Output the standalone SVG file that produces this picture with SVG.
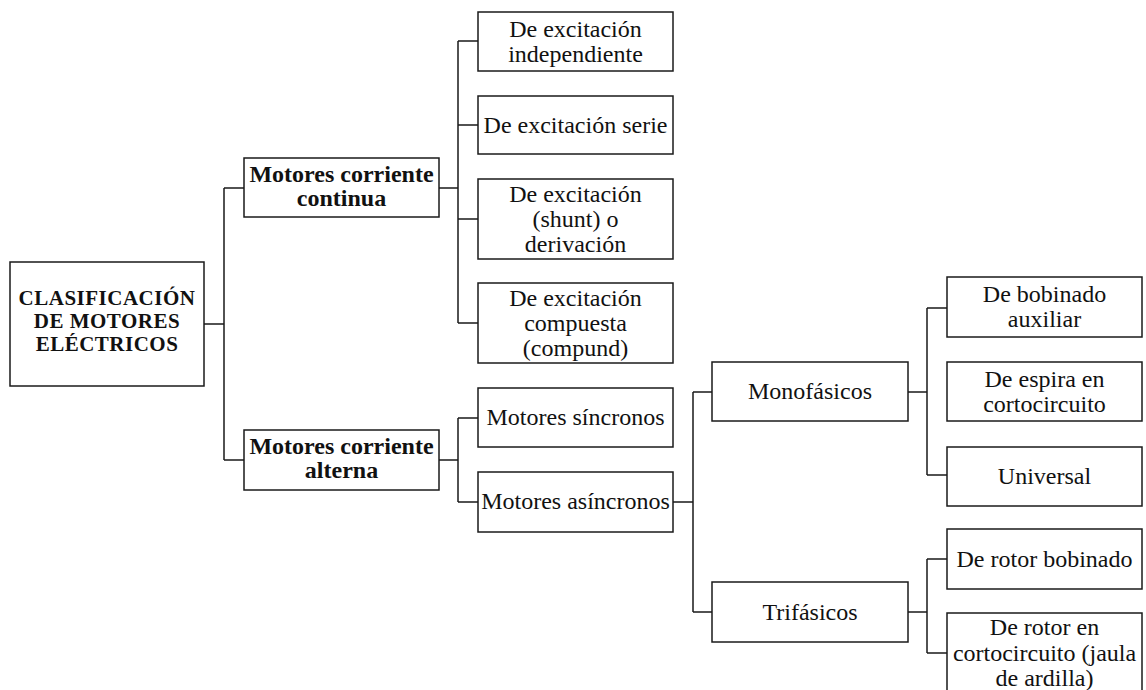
<svg xmlns="http://www.w3.org/2000/svg" width="1146" height="690" viewBox="0 0 1146 690">
<style>
rect.box{fill:#fff;stroke:#1a1a1a;stroke-width:1.5}
.conn path{fill:none;stroke:#1a1a1a;stroke-width:1.5}
text{font-family:"Liberation Serif","Times New Roman",serif;font-size:24px;fill:#111;text-anchor:middle}
text.b{font-weight:bold}
text.t{font-weight:bold;font-size:21px;letter-spacing:0.5px}
</style>
<rect width="1146" height="690" fill="#fff"/>
<g class="conn" id="connectors">
<path d="M204,324 H224 M224,188 V460 M224,188 H244 M224,460 H244"/>
<path d="M439,188 H458 M458,41 V323 M458,41 H478 M458,125 H478 M458,219 H478 M458,323 H478"/>
<path d="M439,460 H458 M458,418 V502 M458,418 H478 M458,502 H478"/>
<path d="M673,502 H693 M693,392 V612 M693,392 H712 M693,612 H712"/>
<path d="M908,392 H927 M927,308 V475 M927,308 H947 M927,475 H947"/>
<path d="M908,612 H927 M927,559 V653 M927,559 H947 M927,653 H947"/>
</g>
<g id="root"><rect class="box" x="10" y="262" width="194" height="124"/>
<text class="t" x="107" y="305">CLASIFICACIÓN</text><text class="t" x="107" y="328">DE MOTORES</text><text class="t" x="107" y="351">ELÉCTRICOS</text></g>
<g id="cc"><rect class="box" x="244" y="158" width="195" height="59"/>
<text class="b" x="341.5" y="182">Motores corriente</text><text class="b" x="341.5" y="206">continua</text></g>
<g id="ca"><rect class="box" x="244" y="430" width="195" height="60"/>
<text class="b" x="341.5" y="454">Motores corriente</text><text class="b" x="341.5" y="478">alterna</text></g>
<g id="indep"><rect class="box" x="478" y="12" width="195" height="59"/>
<text x="575.5" y="37">De excitación</text><text x="575.5" y="62">independiente</text></g>
<g id="serie"><rect class="box" x="478" y="96" width="195" height="58"/>
<text x="575.5" y="133">De excitación serie</text></g>
<g id="shunt"><rect class="box" x="478" y="179" width="195" height="80"/>
<text x="575.5" y="202">De excitación</text><text x="575.5" y="227">(shunt) o</text><text x="575.5" y="252">derivación</text></g>
<g id="compuesta"><rect class="box" x="478" y="283" width="195" height="80"/>
<text x="575.5" y="306">De excitación</text><text x="575.5" y="331">compuesta</text><text x="575.5" y="356">(compund)</text></g>
<g id="sincronos"><rect class="box" x="478" y="388" width="195" height="59"/>
<text x="575.5" y="425">Motores síncronos</text></g>
<g id="asincronos"><rect class="box" x="478" y="472" width="195" height="60"/>
<text x="575.5" y="509">Motores asíncronos</text></g>
<g id="mono"><rect class="box" x="712" y="362" width="196" height="59"/>
<text x="810" y="399">Monofásicos</text></g>
<g id="tri"><rect class="box" x="712" y="582" width="196" height="60"/>
<text x="810" y="620">Trifásicos</text></g>
<g id="bobaux"><rect class="box" x="947" y="277" width="195" height="60"/>
<text x="1044.5" y="302">De bobinado</text><text x="1044.5" y="327">auxiliar</text></g>
<g id="espira"><rect class="box" x="947" y="362" width="195" height="59"/>
<text x="1044.5" y="387">De espira en</text><text x="1044.5" y="412">cortocircuito</text></g>
<g id="universal"><rect class="box" x="947" y="447" width="195" height="59"/>
<text x="1044.5" y="484">Universal</text></g>
<g id="rotorbob"><rect class="box" x="947" y="529" width="195" height="60"/>
<text x="1044.5" y="567">De rotor bobinado</text></g>
<g id="jaula"><rect class="box" x="947" y="613" width="195" height="82"/>
<text x="1044.5" y="635">De rotor en</text><text x="1044.5" y="661">cortocircuito (jaula</text><text x="1044.5" y="686">de ardilla)</text></g>
</svg>
